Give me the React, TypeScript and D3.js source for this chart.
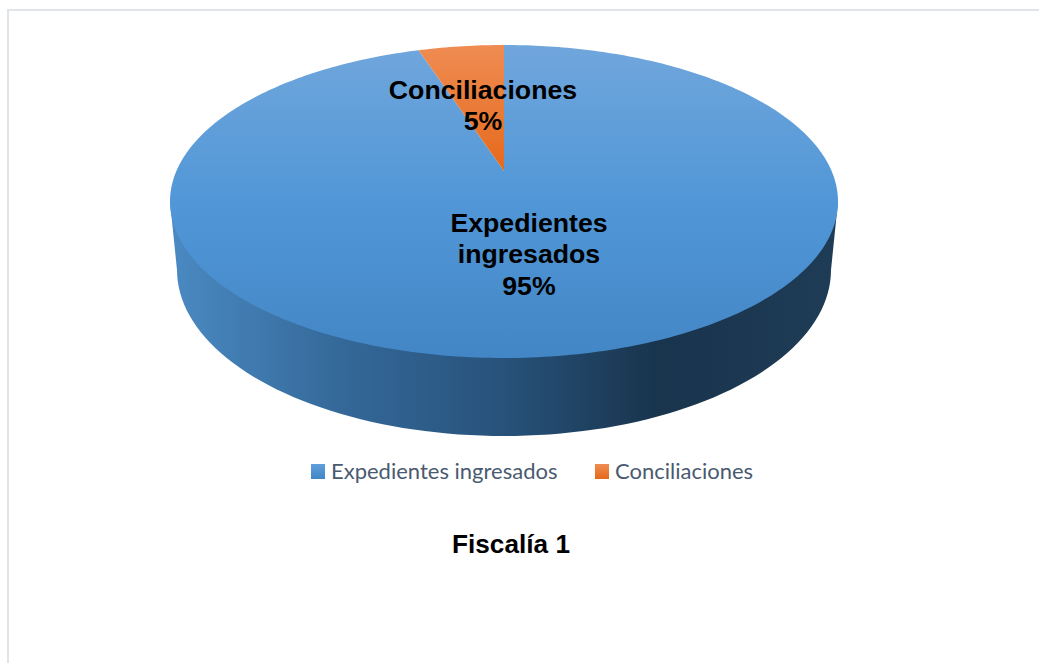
import React from 'react';
import * as d3 from 'd3';

const categories = ['Expedientes ingresados', 'Conciliaciones'];
const shares = [95, 5];
const chartTitle = 'Fiscalía 1';

const width = 1039;
const height = 663;

// top face of the disc, seen in perspective: the centre sits above the middle of the ellipse
const topFace = { cx: 504, cy: 201.5, rx: 334, ry: 156.5, tilt: -0.195 };
const bottomFace = { cx: 504, cy: 270, rx: 327, ry: 166 };

const project = (angle: number): [number, number] => {
  const u = Math.sin(angle);
  const v = -Math.cos(angle);
  const a = topFace.tilt;
  const d = 1 + a * v;
  return [
    topFace.cx + (topFace.rx * u * Math.sqrt(1 - a * a)) / d,
    topFace.cy + (topFace.ry * (v + a)) / d,
  ];
};
const hub: [number, number] = [topFace.cx, topFace.cy + topFace.ry * topFace.tilt];

const line = d3.line();

const slicePath = (start: number, end: number) => {
  const n = Math.ceil((end - start) * 60);
  const pts = d3.range(n + 1).map(i => project(start + ((end - start) * i) / n));
  return line([hub, ...pts, hub]) + 'Z';
};

const wallPath = () => {
  const { cx, cy, rx, ry } = bottomFace;
  const pts = d3.range(0, 181, 2).map((deg): [number, number] => {
    const t = (deg * Math.PI) / 180;
    return [cx + rx * Math.cos(t), cy + ry * Math.sin(t)];
  });
  return line([[topFace.cx + topFace.rx, topFace.cy], ...pts, [topFace.cx - topFace.rx, topFace.cy]]) + 'Z';
};

export default function App() {
  const arcs = d3.pie<number>().sort(null)(shares);
  const fills = ['url(#blueTop)', 'url(#orangeTop)'];
  const label = { fontFamily: 'Liberation Sans', fontWeight: 700, fontSize: 26.7, fill: '#000', textAnchor: 'middle' as const };

  return (
    <svg
      width={width}
      height={height}
      viewBox={`0 0 ${width} ${height}`}
      style={{ position: 'fixed', left: 0, top: 0, background: '#fff' }}
    >
      <defs>
        <linearGradient id="blueTop" gradientUnits="userSpaceOnUse" x1="0" y1="45" x2="0" y2="358">
          <stop offset="0" stopColor="#70a6dc" />
          <stop offset="0.5" stopColor="#5197d7" />
          <stop offset="1" stopColor="#4386c6" />
        </linearGradient>
        <linearGradient id="orangeTop" gradientUnits="userSpaceOnUse" x1="0" y1="45" x2="0" y2="172">
          <stop offset="0" stopColor="#ef8c52" />
          <stop offset="1" stopColor="#e5691b" />
        </linearGradient>
        <linearGradient id="wall" gradientUnits="userSpaceOnUse" x1="170" y1="0" x2="838" y2="0">
          <stop offset="0" stopColor="#4a8ac2" />
          <stop offset="0.25" stopColor="#35699a" />
          <stop offset="0.5" stopColor="#27527a" />
          <stop offset="0.73" stopColor="#19344d" />
          <stop offset="1" stopColor="#1f3c56" />
        </linearGradient>
        <linearGradient id="blueKey" x1="0" y1="0" x2="0" y2="1">
          <stop offset="0" stopColor="#5f9fdb" />
          <stop offset="1" stopColor="#4386c6" />
        </linearGradient>
        <linearGradient id="orangeKey" x1="0" y1="0" x2="0" y2="1">
          <stop offset="0" stopColor="#ef8c52" />
          <stop offset="1" stopColor="#e5691b" />
        </linearGradient>
      </defs>

      {/* frame, only top and left reach the picture */}
      <path d={`M8 663V10H1039`} fill="none" stroke="#e1e5ea" strokeWidth={2} />

      <path d={wallPath()} fill="url(#wall)" />
      {arcs.map((a, i) => (
        <path key={categories[i]} d={slicePath(a.startAngle, a.endAngle)} fill={fills[i]} />
      ))}

      <text {...label} x={483} y={98.5}>{categories[1]}</text>
      <text {...label} x={483} y={130}>{shares[1]}%</text>
      <text {...label} x={529} y={232}>{categories[0].split(' ')[0]}</text>
      <text {...label} x={529} y={263}>{categories[0].split(' ')[1]}</text>
      <text {...label} x={529} y={295}>{shares[0]}%</text>

      <rect x={311} y={464} width={14} height={15} fill="url(#blueKey)" />
      <text x={331} y={479} fontFamily="Lato" fontSize={22} fill="#4a5a70">{categories[0]}</text>
      <rect x={595} y={464} width={14} height={15} fill="url(#orangeKey)" />
      <text x={615} y={479} fontFamily="Lato" fontSize={22} fill="#4a5a70">{categories[1]}</text>

      <text {...label} x={511} y={552.5} fontSize={26.2}>{chartTitle}</text>
    </svg>
  );
}
